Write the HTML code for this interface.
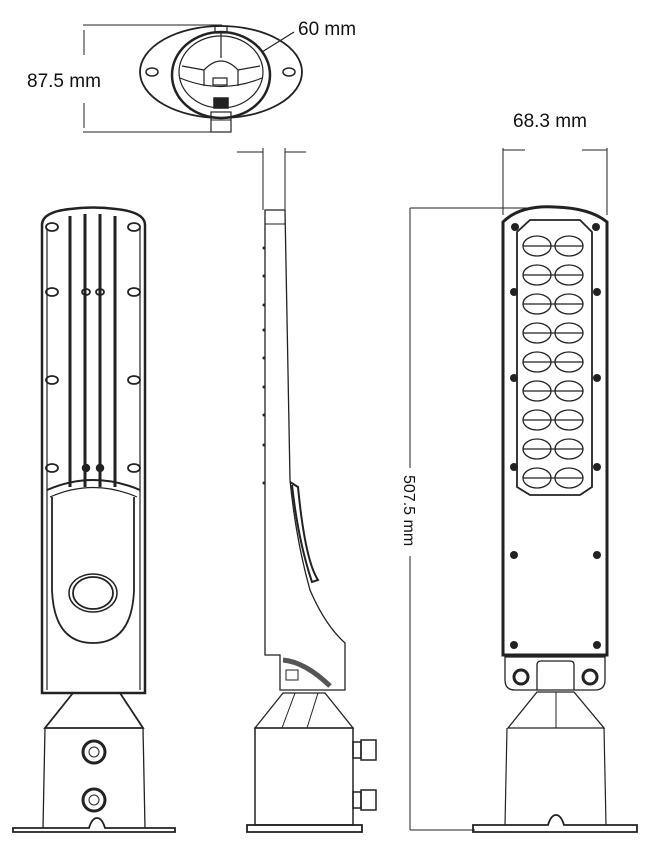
<!DOCTYPE html>
<html><head><meta charset="utf-8"><style>
html,body{margin:0;padding:0;background:#fff;}
svg{display:block;}
text{font-family:"Liberation Sans","DejaVu Sans",sans-serif;fill:#111;}
</style></head><body>
<svg width="645" height="844" viewBox="0 0 645 844" xmlns="http://www.w3.org/2000/svg" fill="none" stroke="#222" stroke-width="1.5">
<!-- TOP VIEW -->
<line x1="83" y1="25" x2="222" y2="25" stroke-width="1"/>
<line x1="83" y1="132" x2="222" y2="132" stroke-width="1"/>
<line x1="84" y1="30" x2="84" y2="55" stroke-width="1"/>
<line x1="84" y1="103" x2="84" y2="128" stroke-width="1"/>
<text x="27" y="87" font-size="19" stroke="none">87.5 mm</text>
<text x="298" y="35" font-size="19" stroke="none">60 mm</text>
<line x1="294" y1="32" x2="262" y2="52" stroke-width="1.2"/>
<ellipse cx="221" cy="72" rx="81" ry="46" stroke-width="1.8"/>
<ellipse cx="221" cy="75" rx="49" ry="43" stroke-width="2.5"/>
<ellipse cx="221" cy="72" rx="42" ry="36" stroke-width="1.2"/>
<ellipse cx="152" cy="72" rx="6" ry="4"/>
<ellipse cx="289" cy="72" rx="6" ry="4"/>
<rect x="215" y="26" width="12" height="7" stroke-width="1.2"/>
<line x1="221" y1="33" x2="221" y2="58" stroke-width="1.2"/>
<path d="M204 86 L204 70 Q221 52 238 70 L238 86" stroke-width="1.2"/>
<line x1="204" y1="70" x2="182" y2="66" stroke-width="1.2"/>
<line x1="238" y1="70" x2="260" y2="66" stroke-width="1.2"/>
<path d="M180 78 Q221 95 262 78" stroke-width="1.2"/>
<rect x="213" y="78" width="14" height="7" stroke-width="1.2"/>
<rect x="214" y="98" width="14" height="10" fill="#222"/>
<rect x="211" y="112" width="20" height="20" stroke-width="1.2"/>
<line x1="211" y1="120" x2="231" y2="120" stroke-width="1"/>

<!-- FRONT VIEW (left) -->
<path d="M42 693 L42 225 Q42 212 70 209 Q93 206 116 209 Q145 212 145 225 L145 693 Z" stroke-width="2.5"/>
<path d="M47 690 L47 228 M140 690 L140 228" stroke-width="1.2"/>
<g stroke-width="3">
<line x1="70" y1="216" x2="70" y2="487"/><line x1="85" y1="214" x2="85" y2="487"/>
<line x1="100" y1="214" x2="100" y2="487"/><line x1="115" y1="216" x2="115" y2="487"/>
</g>
<g stroke-width="1.8">
<ellipse cx="52" cy="227" rx="6" ry="4"/><ellipse cx="134" cy="227" rx="6" ry="4"/>
<ellipse cx="52" cy="292" rx="6" ry="4"/><ellipse cx="134" cy="292" rx="6" ry="4"/>
<ellipse cx="52" cy="380" rx="6" ry="4"/><ellipse cx="134" cy="380" rx="6" ry="4"/>
<ellipse cx="52" cy="468" rx="6" ry="4"/><ellipse cx="134" cy="468" rx="6" ry="4"/>
<ellipse cx="86" cy="292" rx="4" ry="3"/><ellipse cx="100" cy="292" rx="4" ry="3"/>
</g>
<circle cx="86" cy="468" r="3.5" fill="#222"/><circle cx="100" cy="468" r="3.5" fill="#222"/>
<path d="M47 490 Q93 470 140 490" stroke-width="2"/>
<path d="M50 497 Q93 478 137 497" stroke-width="1.2"/>
<path d="M52 497 L52 590 Q54 643 93 643 Q132 643 134 590 L134 497" stroke-width="1.8"/>
<ellipse cx="93" cy="593" rx="24" ry="19" stroke-width="1.5"/>
<ellipse cx="93" cy="593" rx="20" ry="16" stroke-width="1.8"/>
<path d="M73 693 L120 693 L143 728 L45 728 Z" stroke-width="1.8"/>
<path d="M45 728 L43 828 M143 728 L145 828" stroke-width="1.3"/>
<circle cx="94" cy="752" r="11" stroke-width="3"/><circle cx="94" cy="752" r="5" stroke-width="1"/>
<circle cx="94" cy="800" r="11" stroke-width="3"/><circle cx="94" cy="800" r="5" stroke-width="1"/>
<path d="M13 832 L13 828 L89 828 Q92 818 97 818 Q102 818 105 828 L175 828 L175 832 Z" stroke-width="1.8"/>

<!-- SIDE VIEW -->
<line x1="263" y1="148" x2="263" y2="210" stroke-width="1"/>
<line x1="285" y1="148" x2="285" y2="210" stroke-width="1"/>
<line x1="237" y1="152" x2="263" y2="152" stroke-width="1"/>
<line x1="285" y1="152" x2="306" y2="152" stroke-width="1"/>
<path d="M265 210 L265 655 L280 655 L280 690 L345 690 L345 643 Q325 625 310 590 Q296 540 290 480 L285 210 Z" stroke-width="1.3"/>
<rect x="265" y="210" width="20" height="14" stroke-width="1"/>
<g fill="#222" stroke="none">
<circle cx="264" cy="248" r="1.5"/><circle cx="264" cy="276" r="1.5"/><circle cx="264" cy="305" r="1.5"/><circle cx="264" cy="330" r="1.5"/><circle cx="264" cy="358" r="1.5"/><circle cx="264" cy="387" r="1.5"/><circle cx="264" cy="415" r="1.5"/><circle cx="264" cy="445" r="1.5"/><circle cx="264" cy="483" r="1.5"/>
</g>
<path d="M290 482 L298 487 Q305 560 318 580 L312 582 Q298 540 292 485" stroke-width="2"/>
<path d="M283 660 Q305 662 330 686" stroke-width="5" stroke="#555"/>
<rect x="286" y="670" width="12" height="10" stroke-width="1"/>
<path d="M283 693 L325 693 L353 728 L255 728 Z" stroke-width="1.3"/>
<path d="M282 728 L295 693 M307 728 L318 693" stroke-width="1"/>
<rect x="255" y="728" width="98" height="97" stroke-width="1.5"/>
<rect x="247" y="825" width="115" height="7" stroke-width="1.8"/>
<rect x="353" y="742" width="8" height="16" stroke-width="1.5"/><rect x="361" y="740" width="15" height="20" stroke-width="1.5"/>
<rect x="353" y="792" width="8" height="16" stroke-width="1.5"/><rect x="361" y="790" width="15" height="20" stroke-width="1.5"/>

<!-- RIGHT VIEW -->
<text x="513" y="127" font-size="19" stroke="none">68.3 mm</text>
<line x1="503" y1="148" x2="503" y2="215" stroke-width="1"/>
<line x1="607" y1="148" x2="607" y2="215" stroke-width="1"/>
<line x1="503" y1="150" x2="525" y2="150" stroke-width="1"/>
<line x1="582" y1="150" x2="607" y2="150" stroke-width="1"/>
<line x1="410" y1="208" x2="540" y2="208" stroke-width="1"/>
<line x1="410" y1="208" x2="410" y2="468" stroke-width="1"/>
<line x1="410" y1="556" x2="410" y2="830" stroke-width="1"/>
<line x1="410" y1="830" x2="475" y2="830" stroke-width="1"/>
<text x="0" y="0" font-size="16" stroke="none" transform="translate(404,475) rotate(90)">507.5 mm</text>
<path d="M503 655 L503 222 Q520 205 555 207 Q590 208 607 222 L607 655 Z" stroke-width="3"/>
<path d="M517 487 L517 232 L530 220 L580 220 L592 232 L592 487 L580 495 L530 495 Z" stroke-width="1.8"/>
<g stroke-width="1.3">
<g id="row"><ellipse cx="537" cy="246" rx="14" ry="10"/><ellipse cx="569" cy="246" rx="14" ry="10"/><line x1="523" y1="246" x2="583" y2="246"/></g>
<use href="#row" y="29"/><use href="#row" y="58"/><use href="#row" y="87"/><use href="#row" y="116"/><use href="#row" y="145"/><use href="#row" y="174"/><use href="#row" y="203"/><use href="#row" y="232"/>
</g>
<g fill="#222" stroke="none">
<circle cx="515" cy="227" r="4"/><circle cx="596" cy="227" r="4"/>
<circle cx="514" cy="292" r="4"/><circle cx="597" cy="292" r="4"/>
<circle cx="514" cy="378" r="4"/><circle cx="597" cy="378" r="4"/>
<circle cx="514" cy="467" r="4"/><circle cx="597" cy="467" r="4"/>
<circle cx="514" cy="555" r="4"/><circle cx="597" cy="555" r="4"/>
<circle cx="514" cy="645" r="4"/><circle cx="597" cy="645" r="4"/>
</g>
<path d="M505 657 L605 657 L605 680 Q605 690 595 690 L515 690 Q505 690 505 680 Z" stroke-width="1.3"/>
<circle cx="521" cy="677" r="7" stroke-width="3"/><circle cx="590" cy="677" r="7" stroke-width="3"/>
<path d="M537 690 L537 665 Q537 661 541 661 L570 661 Q574 661 574 665 L574 690" stroke-width="1.3"/>
<path d="M537 692 L574 692 L604 728 L508 728 Z" stroke-width="1.3"/>
<line x1="556" y1="692" x2="556" y2="728" stroke-width="1"/>
<path d="M507 728 L505 825 M604 728 L606 825" stroke-width="1.2"/>
<path d="M473 832 L473 825 L548 825 Q551 815 556 815 Q561 815 564 825 L637 825 L637 832 Z" stroke-width="1.8"/>
</svg>
</body></html>
